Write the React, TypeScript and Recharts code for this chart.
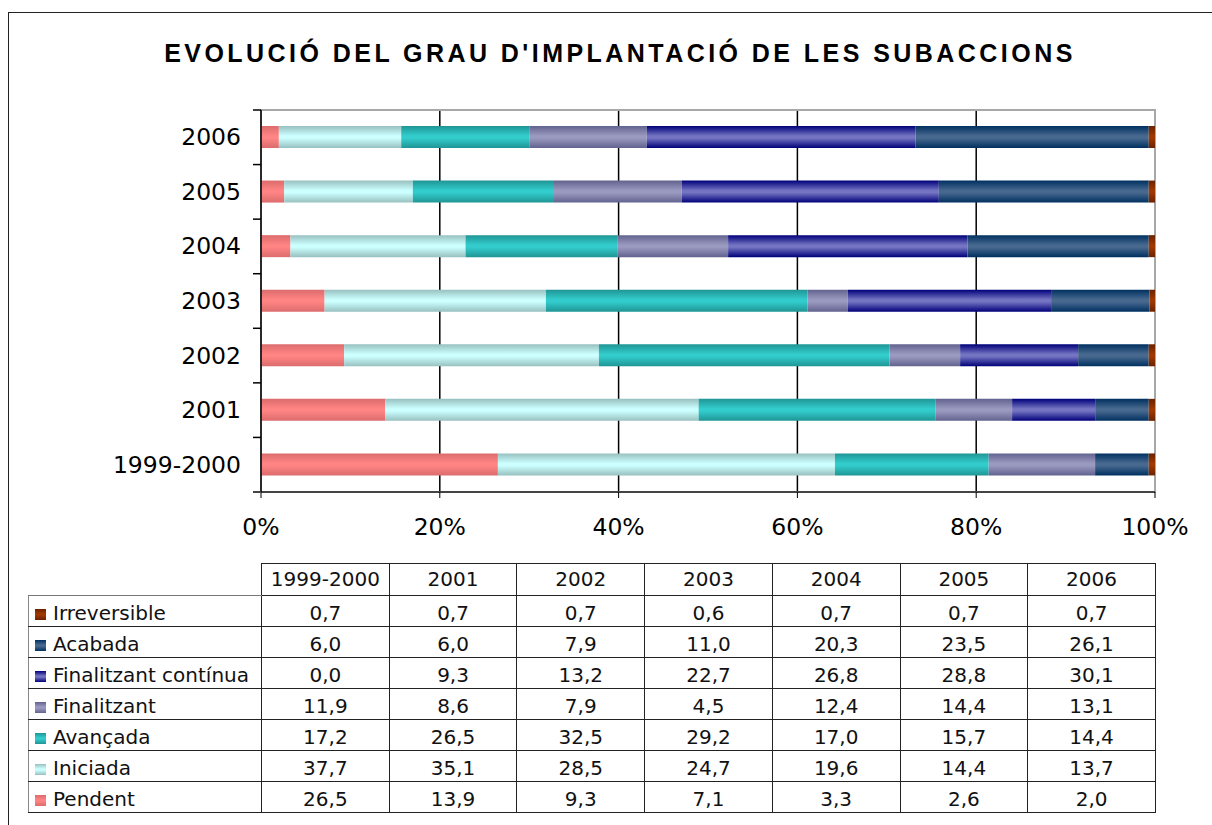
import React from 'react';
import { BarChart, Bar, XAxis, YAxis, CartesianGrid, ReferenceArea } from 'recharts';

const categories = ['1999-2000', '2001', '2002', '2003', '2004', '2005', '2006'];
const pendent = [26.5, 13.9, 9.3, 7.1, 3.3, 2.6, 2.0];
const iniciada = [37.7, 35.1, 28.5, 24.7, 19.6, 14.4, 13.7];
const avancada = [17.2, 26.5, 32.5, 29.2, 17.0, 15.7, 14.4];
const finalitzant = [11.9, 8.6, 7.9, 4.5, 12.4, 14.4, 13.1];
const finalitzantContinua = [0.0, 9.3, 13.2, 22.7, 26.8, 28.8, 30.1];
const acabada = [6.0, 6.0, 7.9, 11.0, 20.3, 23.5, 26.1];
const irreversible = [0.7, 0.7, 0.7, 0.6, 0.7, 0.7, 0.7];
const xTicks = [0, 0.2, 0.4, 0.6, 0.8, 1];

const TITLE = "EVOLUCIÓ DEL GRAU D'IMPLANTACIÓ DE LES SUBACCIONS";

// stacking order left -> right
const series = [
  { key: 'pendent', name: 'Pendent', values: pendent, edge: '#dc6c6c', mid: '#ff8484' },
  { key: 'iniciada', name: 'Iniciada', values: iniciada, edge: '#98c0c0', mid: '#ccffff' },
  { key: 'avancada', name: 'Avançada', values: avancada, edge: '#1f9595', mid: '#33cccc' },
  { key: 'finalitzant', name: 'Finalitzant', values: finalitzant, edge: '#62628f', mid: '#9a9ac0' },
  { key: 'finalitzantContinua', name: 'Finalitzant contínua', values: finalitzantContinua, edge: '#00007a', mid: '#7474c2' },
  { key: 'acabada', name: 'Acabada', values: acabada, edge: '#003060', mid: '#48698f' },
  { key: 'irreversible', name: 'Irreversible', values: irreversible, edge: '#6a2200', mid: '#a03800' },
];

const data = categories.map((c, i) => {
  const row: Record<string, any> = { cat: c };
  series.forEach((s) => { row[s.key] = s.values[i]; });
  return row;
});

const W = 1212;
const H = 825;
const M = { top: 110, right: 57, bottom: 303, left: 161 };
const Y_AXIS_W = 100;
const X_AXIS_H = 30;
const PLOT_H = H - M.top - M.bottom - X_AXIS_H;
const BAND = PLOT_H / categories.length;

const fmt = (v: number) => v.toFixed(1).replace('.', ',');

const YTick = (props: any) => {
  const { x, y, payload, index } = props;
  const ax = x + 20;
  return (
    <g>
      <text x={x} y={y} textAnchor="end" dominantBaseline="central" fontFamily="DejaVu Sans, Verdana, sans-serif" fontSize={23.5} fill="#000">
        {payload.value}
      </text>
      <line x1={ax - 8} x2={ax} y1={y - BAND / 2} y2={y - BAND / 2} stroke="#000" strokeWidth={1.5} />
      {index === 0 ? <line x1={ax - 8} x2={ax} y1={y + BAND / 2} y2={y + BAND / 2} stroke="#444" strokeWidth={2} /> : null}
    </g>
  );
};

const tableRows = [...series].reverse();
const COL0 = 233;
const COLW = (1155 - 261) / categories.length;

const cellStyle: React.CSSProperties = {
  border: '1.5px solid #222',
  textAlign: 'center',
  padding: '0 0 2px 0',
  verticalAlign: 'bottom',
};

export default function App() {
  return (
    <div style={{ position: 'absolute', left: 0, top: 0, width: W, height: H, overflow: 'hidden', background: '#fff' }}>
      <div style={{ position: 'absolute', left: 8, top: 12, width: 1400, height: 1000, border: '1.5px solid #222', boxSizing: 'border-box' }} />
      <div style={{ position: 'absolute', left: 3, top: 36, width: 1234, textAlign: 'center', fontFamily: 'Liberation Sans, Arial, sans-serif', fontWeight: 'bold', fontSize: 25, letterSpacing: '3.45px', color: '#000', lineHeight: '34px' }}>
        {TITLE}
      </div>
      <div style={{ position: 'absolute', left: 0, top: 0 }}>
        <BarChart width={W} height={H} data={data} layout="vertical" stackOffset="expand" margin={M}>
          <defs>
            {series.map((s) => (
              <linearGradient key={s.key} id={`g-${s.key}`} x1="0" y1="0" x2="0" y2="1">
                <stop offset="0%" stopColor={s.edge} />
                <stop offset="45%" stopColor={s.mid} />
                <stop offset="55%" stopColor={s.mid} />
                <stop offset="100%" stopColor={s.edge} />
              </linearGradient>
            ))}
          </defs>
          <CartesianGrid horizontal={false} vertical={true} stroke="#000" strokeWidth={1.5} />
          <ReferenceArea x1={0} x2={1} fill="none" stroke="#a8a8a8" strokeWidth={2} ifOverflow="visible" />
          <XAxis
            type="number"
            domain={[0, 1]}
            ticks={xTicks}
            tickFormatter={(v: number) => `${Math.round(v * 100)}%`}
            height={X_AXIS_H}
            tickSize={6}
            tickMargin={20}
            axisLine={{ stroke: '#444', strokeWidth: 2 }}
            tickLine={{ stroke: '#000', strokeWidth: 1 }}
            tick={{ fontFamily: 'DejaVu Sans, Verdana, sans-serif', fontSize: 23.5, fill: '#000' }}
          />
          <YAxis
            type="category"
            dataKey="cat"
            reversed
            width={Y_AXIS_W}
            tickSize={8}
            tickMargin={12}
            tickLine={false}
            axisLine={{ stroke: '#000', strokeWidth: 1.5 }}
            tick={<YTick />}
            interval={0}
          />
          {series.map((s) => (
            <Bar key={s.key} dataKey={s.key} name={s.name} stackId="a" fill={`url(#g-${s.key})`} barSize={22} isAnimationActive={false} />
          ))}
        </BarChart>
      </div>
      <table
        style={{
          position: 'absolute',
          left: 28,
          top: 563,
          borderCollapse: 'collapse',
          tableLayout: 'fixed',
          width: COL0 + COLW * categories.length,
          fontFamily: 'DejaVu Sans, Verdana, sans-serif',
          fontSize: 20,
          lineHeight: '22px',
          color: '#111',
        }}
      >
        <colgroup>
          <col style={{ width: COL0 }} />
          {categories.map((c) => <col key={c} style={{ width: COLW }} />)}
        </colgroup>
        <tbody>
          <tr style={{ height: 32 }}>
            <td style={{ border: 'none', borderBottom: '1.5px solid #777', padding: 0 }} />
            {categories.map((c) => (
              <td key={c} style={{ ...cellStyle, verticalAlign: 'middle' }}>{c}</td>
            ))}
          </tr>
          {tableRows.map((s) => (
            <tr key={s.key} style={{ height: 31 }}>
              <td style={{ ...cellStyle, textAlign: 'left', borderLeft: '1.5px solid #888', padding: '0 0 2px 6px', whiteSpace: 'nowrap', overflow: 'visible' }}>
                <span style={{ display: 'inline-block', width: 11, height: 11, marginRight: 7, background: `linear-gradient(${s.edge}, ${s.mid} 45%, ${s.mid} 55%, ${s.edge})` }} />
                {s.name}
              </td>
              {s.values.map((v, i) => (
                <td key={i} style={cellStyle}>{fmt(v)}</td>
              ))}
            </tr>
          ))}
        </tbody>
      </table>
    </div>
  );
}
